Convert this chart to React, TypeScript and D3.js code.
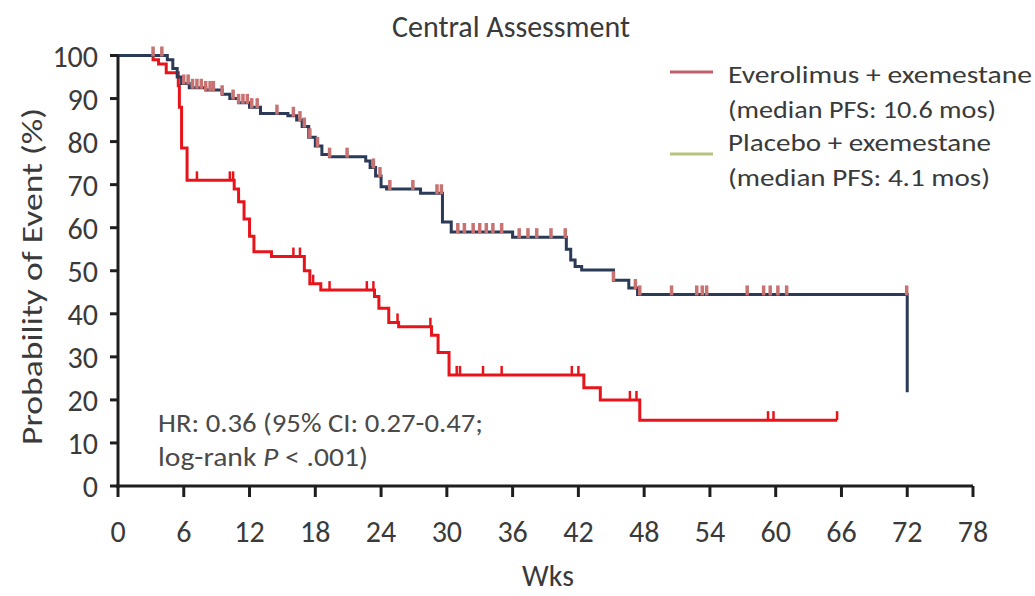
import React from "react";
import * as d3 from "d3";

const upperWeeks = [0, 4.5, 5.0, 5.4, 5.8, 6.5, 8.0, 9.5, 10.2, 11.0, 12.0, 13.0, 15.5, 16.3, 16.8, 17.4, 18.0, 18.6, 19.3, 22.6, 23.0, 23.5, 24.0, 24.5, 27.6, 29.6, 30.4, 36.0, 40.9, 41.3, 41.7, 42.3, 45.2, 46.6, 47.4, 72.0];
const upperProb = [100, 99, 97, 95, 93.5, 92.5, 92, 91, 90, 89, 88, 86.5, 86, 85, 83.5, 81, 79, 77, 76.5, 75.5, 74, 72, 69.5, 69, 68, 61.3, 59, 57.8, 55, 52.5, 51, 50.2, 47.8, 46, 44.5, 21.8];
const upperCensor = [3.2, 4.0, 6.0, 6.4, 6.8, 7.2, 7.6, 8.0, 8.4, 8.7, 9.5, 10.5, 11.0, 11.4, 11.8, 12.2, 12.7, 14.5, 16.0, 16.6, 17.0, 17.5, 18.2, 19.3, 20.9, 23.3, 23.9, 24.8, 26.9, 29.1, 29.5, 31.0, 31.6, 32.4, 33.0, 33.6, 34.2, 35.0, 36.6, 37.4, 38.2, 39.5, 40.8, 45.2, 47.2, 47.6, 50.5, 52.8, 53.3, 53.7, 57.4, 58.9, 59.5, 60.2, 61.0, 71.95];

const lowerWeeks = [0, 3.2, 3.7, 4.4, 5.5, 5.6, 5.8, 6.3, 10.6, 11.0, 11.5, 12.0, 12.4, 14.0, 17.0, 17.5, 18.5, 23.4, 23.8, 24.7, 25.6, 28.6, 29.2, 30.2, 42.5, 44.0, 47.6, 65.6];
const lowerProb = [100, 99, 98, 96, 93, 88, 78.5, 71, 69, 66, 62, 58, 54.4, 53.3, 50, 47, 45.5, 44, 41.3, 38, 37, 35, 31, 25.8, 22.8, 20, 15.3, 15.3];
const lowerCensor = [7.2, 10.2, 10.5, 16.0, 16.6, 17.8, 19.3, 22.7, 23.3, 25.5, 28.5, 30.9, 31.2, 33.3, 35.0, 41.4, 42.0, 46.7, 47.3, 59.3, 59.8, 65.6];

const xTicks = [0, 6, 12, 18, 24, 30, 36, 42, 48, 54, 60, 66, 72, 78];
const yTicks = [0, 10, 20, 30, 40, 50, 60, 70, 80, 90, 100];

const legendLabels = [
  ["Everolimus + exemestane", "(median PFS: 10.6 mos)"],
  ["Placebo + exemestane", "(median PFS: 4.1 mos)"],
];
const legendWidths = [
  [304, 268],
  [263, 262],
];
const legendColors = ["#c0606a", "#b9c27e"];

const FONT = "Carlito, Lato, 'Open Sans', sans-serif";

function stepValue(weeks: number[], probs: number[], t: number) {
  let v = probs[0];
  for (let i = 0; i < weeks.length; i++) {
    if (weeks[i] <= t) v = probs[i];
  }
  return v;
}

export default function App() {
  const W = 1035, H = 596;
  const x = d3.scaleLinear().domain([0, 78]).range([118, 973]);
  const y = d3.scaleLinear().domain([0, 100]).range([486, 55.5]);
  const line = d3
    .line<[number, number]>()
    .x((d) => x(d[0]))
    .y((d) => y(d[1]))
    .curve(d3.curveStepAfter);

  const upperPts = upperWeeks.map((w, i) => [w, upperProb[i]] as [number, number]);
  const lowerPts = lowerWeeks.map((w, i) => [w, lowerProb[i]] as [number, number]);

  const textColor = "#3a3a3a";

  return (
    <svg width={W} height={H} style={{ position: "absolute", left: 0, top: 0, background: "#fff" }}>
      <text x={511} y={37} textAnchor="middle" fontFamily={FONT} fontSize={30} fill={textColor}>
        Central Assessment
      </text>

      {/* curves */}
      <path d={line(lowerPts) || ""} fill="none" stroke="#e8141b" strokeWidth={3} />
      {lowerCensor.map((c, i) => {
        const v = stepValue(lowerWeeks, lowerProb, c);
        return <line key={"lc" + i} x1={x(c)} x2={x(c)} y1={y(v)} y2={y(v) - 9} stroke="#e8141b" strokeWidth={2.5} />;
      })}
      <path d={line(upperPts) || ""} fill="none" stroke="#2b3a57" strokeWidth={3} />
      {upperCensor.map((c, i) => {
        const v = stepValue(upperWeeks, upperProb, c);
        return <line key={"uc" + i} x1={x(c)} x2={x(c)} y1={y(v) + 1} y2={y(v) - 9} stroke="#c87272" strokeWidth={3.5} />;
      })}

      {/* axes */}
      <line x1={x(0)} x2={x(0)} y1={y(100)} y2={y(0) + 2} stroke="#1e1e1e" strokeWidth={3} />
      <line x1={x(0) - 2} x2={x(78)} y1={y(0)} y2={y(0)} stroke="#1e1e1e" strokeWidth={3} />
      {yTicks.map((t) => (
        <g key={"y" + t}>
          <line x1={x(0) - 8} x2={x(0)} y1={y(t)} y2={y(t)} stroke="#1e1e1e" strokeWidth={3} />
          <text x={98} y={y(t) + 11} textAnchor="end" fontFamily={FONT} fontSize={30} fill={textColor}>
            {t}
          </text>
        </g>
      ))}
      {xTicks.map((t) => (
        <g key={"x" + t}>
          <line x1={x(t)} x2={x(t)} y1={y(0)} y2={y(0) + 11} stroke="#1e1e1e" strokeWidth={3} />
          <text x={x(t)} y={542} textAnchor="middle" fontFamily={FONT} fontSize={30} fill={textColor}>
            {t}
          </text>
        </g>
      ))}
      <text x={548} y={586} textAnchor="middle" fontFamily={FONT} fontSize={30} fill={textColor}>
        Wks
      </text>
      <text
        transform={`translate(42,445) rotate(-90)`}
        textLength={337}
        lengthAdjust="spacingAndGlyphs"
        fontFamily={FONT}
        fontSize={29}
        fill={textColor}
      >
        Probability of Event (%)
      </text>

      {/* legend */}
      {legendLabels.map((lbl, i) => {
        const by = i === 0 ? 83 : 151;
        const ly = i === 0 ? 72 : 154;
        return (
          <g key={"lg" + i}>
            <line x1={670} x2={713} y1={ly} y2={ly} stroke={legendColors[i]} strokeWidth={3} />
            <text x={728} y={by} textLength={legendWidths[i][0]} lengthAdjust="spacingAndGlyphs" fontFamily={FONT} fontSize={25} fill={textColor}>
              {lbl[0]}
            </text>
            <text x={728} y={by + 35} textLength={legendWidths[i][1]} lengthAdjust="spacingAndGlyphs" fontFamily={FONT} fontSize={25} fill={textColor}>
              {lbl[1]}
            </text>
          </g>
        );
      })}

      {/* annotation */}
      <text x={158} y={432} textLength={325} lengthAdjust="spacingAndGlyphs" fontFamily={FONT} fontSize={27} fill="#4a4a4a">
        HR: 0.36 (95% CI: 0.27-0.47;
      </text>
      <text x={158} y={466} textLength={210} lengthAdjust="spacingAndGlyphs" fontFamily={FONT} fontSize={27} fill="#4a4a4a">
        log-rank <tspan fontStyle="italic">P</tspan> &lt; .001)
      </text>
    </svg>
  );
}
